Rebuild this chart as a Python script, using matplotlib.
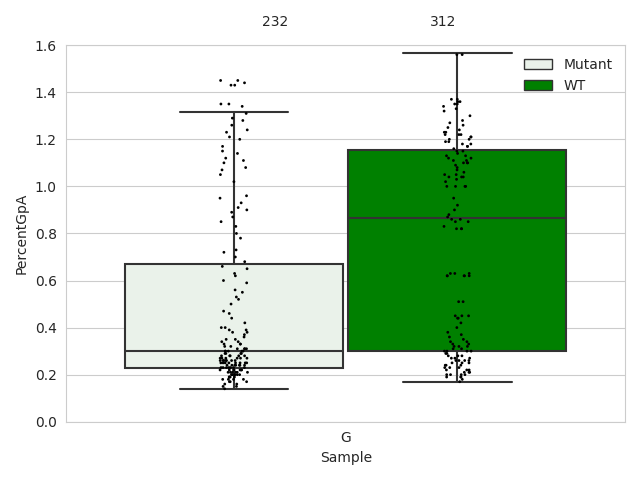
import numpy as np
import pandas as pd
import matplotlib
matplotlib.use('Agg')
import matplotlib.pyplot as plt
import seaborn as sns
from matplotlib.patches import Patch

# 读图估计的数值
mutant = [
    0.15, 0.16, 0.16, 0.17, 0.17, 0.18, 0.18, 0.18, 0.19, 0.19, 0.19, 0.20, 0.20, 0.20, 0.20,
    0.21, 0.21, 0.21, 0.21, 0.22, 0.22, 0.22, 0.22, 0.22, 0.23, 0.23, 0.23, 0.23, 0.23, 0.24,
    0.24, 0.24, 0.24, 0.24, 0.25, 0.25, 0.25, 0.25, 0.25, 0.25, 0.26, 0.26, 0.26, 0.26, 0.26,
    0.27, 0.27, 0.27, 0.27, 0.28, 0.28, 0.28, 0.28, 0.29, 0.29, 0.29, 0.30, 0.30, 0.30, 0.30,
    0.31, 0.31, 0.31, 0.32, 0.32, 0.33, 0.33, 0.34, 0.34, 0.35, 0.35, 0.36, 0.37, 0.38, 0.38,
    0.39, 0.39, 0.40, 0.40, 0.14, 0.15, 0.17, 0.19, 0.21, 0.23, 0.25, 0.27, 0.29, 0.31, 0.33,
    0.20, 0.22, 0.24, 0.26, 0.28, 0.18, 0.24, 0.26, 0.30, 0.22, 0.25, 0.27, 0.20, 0.23, 0.21,
    0.42, 0.44, 0.46, 0.47, 0.50, 0.52, 0.53, 0.55, 0.56, 0.59, 0.60, 0.62, 0.63, 0.65, 0.66,
    0.68, 0.70, 0.72, 0.73, 0.78, 0.80, 0.83, 0.85, 0.87, 0.89, 0.90, 0.91, 0.93, 0.95, 0.96,
    1.02, 1.05, 1.07, 1.08, 1.10, 1.11, 1.12, 1.14, 1.15, 1.17, 1.20, 1.21, 1.23, 1.24, 1.26,
    1.28, 1.29, 1.31, 1.35, 1.35, 1.34, 1.43, 1.44, 1.45, 1.45, 1.43,
]
wt = [
    0.17, 0.18, 0.19, 0.19, 0.20, 0.20, 0.20, 0.21, 0.21, 0.22, 0.22, 0.23, 0.23, 0.24, 0.24,
    0.25, 0.25, 0.25, 0.26, 0.26, 0.26, 0.27, 0.27, 0.27, 0.28, 0.28, 0.29, 0.29, 0.30, 0.30,
    0.30, 0.31, 0.31, 0.32, 0.32, 0.33, 0.33, 0.34, 0.34, 0.35, 0.36, 0.37, 0.38, 0.40, 0.42,
    0.44, 0.44, 0.45, 0.45, 0.45, 0.20, 0.22, 0.24, 0.26, 0.28, 0.30, 0.32, 0.19, 0.21, 0.23,
    0.51, 0.51, 0.62, 0.62, 0.62, 0.63, 0.63, 0.62, 0.63, 0.62,
    0.82, 0.82, 0.82, 0.83, 0.85, 0.85, 0.86, 0.86, 0.87, 0.88, 0.90, 0.92, 0.95,
    1.00, 1.00, 1.00, 1.00, 1.02, 1.03, 1.04, 1.04, 1.04, 1.05, 1.05, 1.06, 1.07, 1.08,
    1.09, 1.10, 1.10, 1.10, 1.11, 1.11, 1.12, 1.12, 1.13, 1.13, 1.14, 1.15, 1.15, 1.16,
    1.17, 1.17, 1.18, 1.18, 1.19, 1.19, 1.20, 1.20, 1.21, 1.21, 1.22, 1.22, 1.22, 1.23,
    1.23, 1.24, 1.25, 1.26, 1.27, 1.28, 1.30, 1.32, 1.33, 1.34, 1.35, 1.35, 1.36, 1.36,
    1.37, 1.37, 1.56, 1.56,
]
counts = ['232', '312']
# 箱线统计量: 下须, Q1, 中位数, Q3, 上须
mutant_box = [0.14, 0.23, 0.30, 0.67, 1.315]
wt_box = [0.17, 0.30, 0.865, 1.155, 1.565]

df = pd.DataFrame({
    'Sample': ['G'] * (len(mutant) + len(wt)),
    'hue': ['Mutant'] * len(mutant) + ['WT'] * len(wt),
    'PercentGpA': mutant + wt,
})

sns.set_style('whitegrid')
fig, ax = plt.subplots(figsize=(6.4, 4.8), dpi=100)

stats = []
for lab, b in zip(['Mutant', 'WT'], [mutant_box, wt_box]):
    stats.append({'whislo': b[0], 'q1': b[1], 'med': b[2], 'q3': b[3], 'whishi': b[4], 'label': lab})
bp = ax.bxp(stats, positions=[-0.2, 0.2], widths=0.39, patch_artist=True, showfliers=False,
            manage_ticks=False,
            boxprops=dict(edgecolor='#333333', linewidth=1.5),
            medianprops=dict(color='#333333', linewidth=1.5),
            whiskerprops=dict(color='#333333', linewidth=1.5),
            capprops=dict(color='#333333', linewidth=1.5))
colors = ['#eaf2ea', '#008000']
for p, c in zip(bp['boxes'], colors):
    p.set_facecolor(c)

sns.stripplot(data=df, x='Sample', y='PercentGpA', hue='hue', dodge=True, jitter=0.05,
              palette=['black', 'black'], size=2, ax=ax, legend=False, zorder=3)

ax.set_xlim(-0.5, 0.5)
ax.set_ylim(0, 1.6)
ax.set_xlabel('Sample')
ax.set_ylabel('PercentGpA')
ax.text(-0.126, 1.67, counts[0], ha='center', va='bottom')
ax.text(0.174, 1.67, counts[1], ha='center', va='bottom')
ax.legend(handles=[Patch(facecolor=colors[0], edgecolor='#333333', label='Mutant'),
                   Patch(facecolor=colors[1], edgecolor='#333333', label='WT')],
          loc='upper right', frameon=False)
plt.tight_layout()
plt.savefig('out.png')
